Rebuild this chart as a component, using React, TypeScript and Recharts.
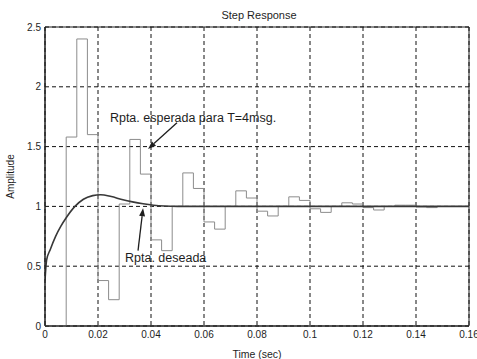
import React from 'react';
import {
  LineChart,
  Line,
  XAxis,
  YAxis,
  CartesianGrid,
  ReferenceArea,
  ReferenceDot,
  ReferenceLine,
  Label,
} from 'recharts';

// Sampled (zero-order hold) response, one value per period T = 4 ms
const sampleTimes = [
  0, 0.004, 0.008, 0.012, 0.016, 0.02, 0.024, 0.028, 0.032, 0.036, 0.04,
  0.044, 0.048, 0.052, 0.056, 0.06, 0.064, 0.068, 0.072, 0.076, 0.08,
  0.084, 0.088, 0.092, 0.096, 0.1, 0.104, 0.108, 0.112, 0.116, 0.12,
  0.124, 0.128, 0.132, 0.136, 0.14, 0.144, 0.148, 0.152, 0.156, 0.16,
];
const sampledOutput = [
  0, 0, 1.58, 2.4, 1.6, 0.38, 0.22, 1.02, 1.56, 1.27, 0.72,
  0.63, 1.0, 1.28, 1.15, 0.87, 0.81, 1.0, 1.13, 1.07, 0.96,
  0.92, 1.0, 1.08, 1.05, 0.98, 0.95, 1.0, 1.03, 1.02, 0.99,
  0.97, 1.0, 1.01, 1.01, 0.995, 0.99, 1.0, 1.0, 1.0, 1.0,
];

// Desired continuous response
const curveTimes = [
  0, 0.0006, 0.002, 0.004, 0.006, 0.008, 0.0113, 0.0145, 0.018, 0.021,
  0.025, 0.029, 0.033, 0.037, 0.041, 0.045, 0.05, 0.08, 0.12, 0.16,
];
const curveOutput = [
  0.38, 0.55, 0.64, 0.75, 0.835, 0.905, 1.0, 1.06, 1.09, 1.098,
  1.082, 1.058, 1.038, 1.022, 1.01, 1.003, 1.0, 1.0, 1.0, 1.0,
];

const xTicks = [0, 0.02, 0.04, 0.06, 0.08, 0.1, 0.12, 0.14, 0.16];
const yTicks = [0, 0.5, 1, 1.5, 2, 2.5];

const sampledData = sampleTimes.map((t, i) => ({ t, y: sampledOutput[i] }));
const curveData = curveTimes.map((t, i) => ({ t, y: curveOutput[i] }));

const FONT = '"Liberation Sans", Arial, Helvetica, sans-serif';
const INK = '#1e1e1e';

const Arrow = (props: any) => {
  const { x1, y1, x2, y2 } = props;
  const ang = Math.atan2(y2 - y1, x2 - x1);
  const len = 8;
  const half = 3;
  const bx = x2 - len * Math.cos(ang);
  const by = y2 - len * Math.sin(ang);
  const px = -Math.sin(ang) * half;
  const py = Math.cos(ang) * half;
  return (
    <g>
      <line x1={x1} y1={y1} x2={bx} y2={by} stroke={INK} strokeWidth={1.3} />
      <polygon
        points={`${x2},${y2} ${bx + px},${by + py} ${bx - px},${by - py}`}
        fill={INK}
      />
    </g>
  );
};

const makeNote = (text: string) => (props: any) => (
  <text
    x={props.cx}
    y={props.cy}
    dominantBaseline="central"
    fontSize={12.5}
    fill={INK}
    fontFamily={FONT}
  >
    {text}
  </text>
);

export default function App() {
  return (
    <div
      style={{
        position: 'absolute',
        left: 0,
        top: 0,
        width: 477,
        height: 359,
        background: '#fff',
        fontFamily: FONT,
      }}
    >
      <div
        style={{
          position: 'absolute',
          left: 159,
          top: 8,
          width: 200,
          textAlign: 'center',
          fontSize: 11,
          lineHeight: '14px',
          color: INK,
        }}
      >
        Step Response
      </div>
      <LineChart
        width={477}
        height={359}
        margin={{ top: 27, right: 8, left: 0, bottom: 0 }}
      >
        <CartesianGrid stroke="#111" strokeDasharray="4 3" strokeWidth={1} />
        <XAxis
          dataKey="t"
          type="number"
          domain={[0, 0.16]}
          ticks={xTicks}
          interval={0}
          allowDataOverflow
          height={33}
          tickSize={0}
          tickMargin={5}
          tickLine={false}
          axisLine={{ stroke: INK }}
          tick={{ fontSize: 10, fill: INK }}
          tickFormatter={(v: number) => String(v)}
        >
          <Label
            value="Time (sec)"
            position="insideBottom"
            offset={1}
            style={{ fontSize: 10.5, fill: INK }}
          />
        </XAxis>
        <YAxis
          type="number"
          domain={[0, 2.5]}
          ticks={yTicks}
          interval={0}
          allowDataOverflow
          width={45}
          tickSize={0}
          tickMargin={4}
          tickLine={false}
          axisLine={{ stroke: INK }}
          tick={{ fontSize: 10, fill: INK }}
        >
          <Label
            value="Amplitude"
            angle={-90}
            position="insideLeft"
            offset={10}
            style={{ fontSize: 10, fill: INK, textAnchor: 'middle' }}
          />
        </YAxis>
        <Line
          data={sampledData}
          dataKey="y"
          type="stepAfter"
          stroke="#8c8c8c"
          strokeWidth={1}
          dot={false}
          isAnimationActive={false}
        />
        <Line
          data={curveData}
          dataKey="y"
          type="monotone"
          stroke="#383838"
          strokeWidth={1.6}
          dot={false}
          isAnimationActive={false}
        />
        <ReferenceArea
          x1={0}
          x2={0.16}
          y1={0}
          y2={2.5}
          fill="none"
          fillOpacity={0}
          stroke={INK}
          strokeWidth={1}
          ifOverflow="visible"
        />
        <ReferenceLine
          segment={[
            { x: 0.0498, y: 1.7 },
            { x: 0.0389, y: 1.48 },
          ]}
          shape={Arrow}
        />
        <ReferenceLine
          segment={[
            { x: 0.0351, y: 0.63 },
            { x: 0.037, y: 0.985 },
          ]}
          shape={Arrow}
        />
        <ReferenceDot
          x={0.0245}
          y={1.74}
          r={0}
          shape={makeNote('Rpta. esperada para T=4msg.')}
        />
        <ReferenceDot
          x={0.0302}
          y={0.567}
          r={0}
          shape={makeNote('Rpta. deseada')}
        />
      </LineChart>
    </div>
  );
}
